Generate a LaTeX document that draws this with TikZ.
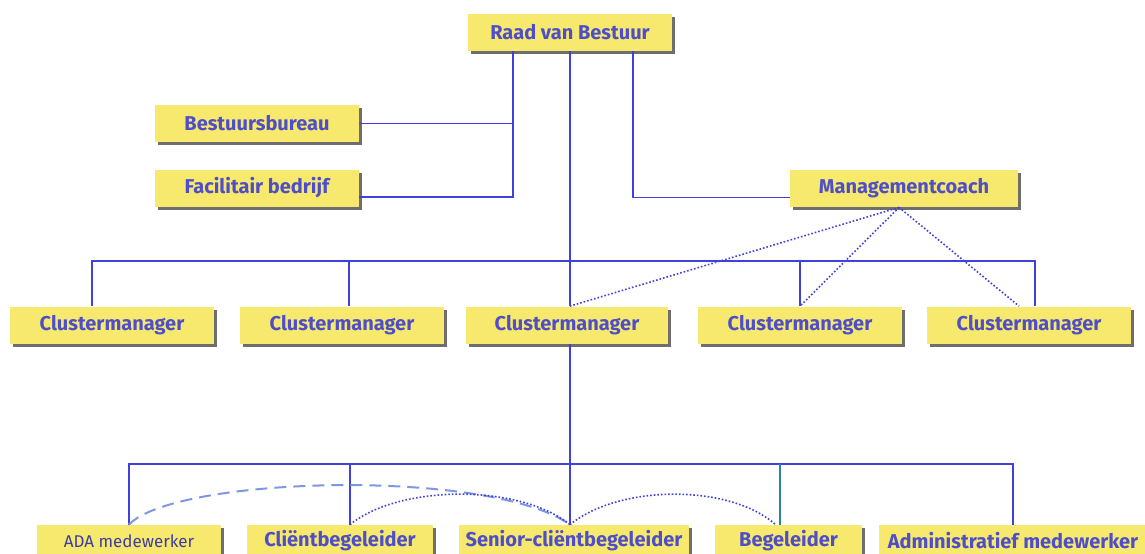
\documentclass[tikz,border=0pt]{standalone}
\usepackage{fontspec}
\setmainfont{Fira Sans}
\usepackage{tikz}
\usetikzlibrary{shadows,calc}
\definecolor{lineblue}{RGB}{64,64,224}
\definecolor{textblue}{RGB}{78,78,200}
\definecolor{boxyellow}{RGB}{247,232,110}
\definecolor{shadowgray}{RGB}{110,110,110}
\definecolor{dashblue}{RGB}{95,125,220}
\definecolor{tealline}{RGB}{40,130,170}

\begin{document}
\begin{tikzpicture}[x=0.5pt, y=-0.5pt]

  % Set up styles for the chart
  \tikzset{
      unit/.style={fill=boxyellow, text=textblue, font=\fontsize{10}{12}\selectfont\bfseries,
                   inner sep=0pt, minimum height=18.5pt,
                   drop shadow={opacity=1, fill=shadowgray, shadow xshift=1.6pt, shadow yshift=-1.6pt}},
      team/.style={unit, minimum height=16pt},
      line/.style={draw=lineblue, line width=0.9pt},
      coach/.style={draw=lineblue, line width=0.8pt, densely dotted}
  }

  \useasboundingbox (0,0) rectangle (1145,553);
  \clip (0,0) rectangle (1145,553);

  % top level
  \node[unit, minimum width=102pt] (raad) at (570,32.5) {Raad van Bestuur};
  \node[unit, minimum width=102pt] (bb) at (257,123.5) {Bestuursbureau};
  \node[unit, minimum width=102pt] (fb) at (257,188) {Facilitair bedrijf};
  \node[unit, minimum width=114pt] (mc) at (904,188.5) {Managementcoach};

  % clustermanagers
  \node[unit, minimum width=102pt] (cm1) at (112,325) {Clustermanager};
  \node[unit, minimum width=102pt] (cm2) at (342,325) {Clustermanager};
  \node[unit, minimum width=101pt] (cm3) at (567,325) {Clustermanager};
  \node[unit, minimum width=102pt] (cm4) at (800,325) {Clustermanager};
  \node[unit, minimum width=102pt] (cm5) at (1029,325) {Clustermanager};

  % teams
  \node[team, minimum width=92pt, font=\fontsize{8.5}{10}\selectfont, text=textblue!80!black]
       (ada) at (129,541) {ADA medewerker};
  \node[team, minimum width=93pt] (cb) at (340,541) {Cliëntbegeleider};
  \node[team, minimum width=115pt] (sr) at (574,541) {Senior-cliëntbegeleider};
  \node[team, minimum width=73.5pt] (bg) at (788.5,541) {Begeleider};
  \node[team, minimum width=134pt] (adm) at (1013,541) {Administratief medewerker};

  % staff lines
  \coordinate (staff) at ([xshift=-28.5pt]raad.south);
  \draw[line] (staff) |- ([yshift=-4.5pt]fb.east);
  \draw[line] (bb.east) -- (bb.east -| staff);
  \draw[line] ([xshift=31.5pt]raad.south) |- ([yshift=-4.5pt]mc.west);

  % main trunk
  \draw[line] (raad.south) -- (raad.south |- cm3.north);
  \draw[line] (raad.south |- cm3.south) -- (raad.south |- sr.north);

  % cluster bus
  \coordinate (cbus) at (570,261);
  \draw[line] ([xshift=-10pt]cm1.north) |- ([xshift=3pt]cm5.north |- cbus) -- ([xshift=3pt]cm5.north);
  \draw[line] ([xshift=3.5pt]cm2.north) -- ([xshift=3.5pt]cm2.north |- cbus);
  \draw[line] (cm4.north) -- (cm4.north |- cbus);

  % coaching
  \coordinate (mcfoot) at ([xshift=-2.5pt]mc.south);
  \draw[coach] (mcfoot) -- (raad.south |- cm3.north);
  \draw[coach] (mcfoot) -- (cm4.north);
  \draw[coach] (mcfoot) -- ([xshift=-5pt]cm5.north);

  % team bus
  \coordinate (tbus) at (570,464);
  \draw[line] (ada.north) |- (adm.north |- tbus) -- (adm.north);
  \draw[line] ([xshift=5pt]cb.north) -- ([xshift=5pt]cb.north |- tbus);
  \draw[draw=tealline, line width=0.8pt] ([xshift=-4.25pt]bg.north) -- ([xshift=-4.25pt]bg.north |- tbus);

  % working relations
  \draw[dashblue!80, line width=1pt, dash pattern=on 6pt off 3.5pt]
       (ada.north) .. controls (175,476) and (490,468) .. ([xshift=-2pt]sr.north);
  \draw[coach] ([xshift=5pt]cb.north) .. controls (400,484) and (520,484) .. ([xshift=-2pt]sr.north);
  \draw[coach] ([xshift=-2pt]sr.north) .. controls (620,484) and (730,484) .. ([xshift=-6.5pt]bg.north);

\end{tikzpicture}
\end{document}
